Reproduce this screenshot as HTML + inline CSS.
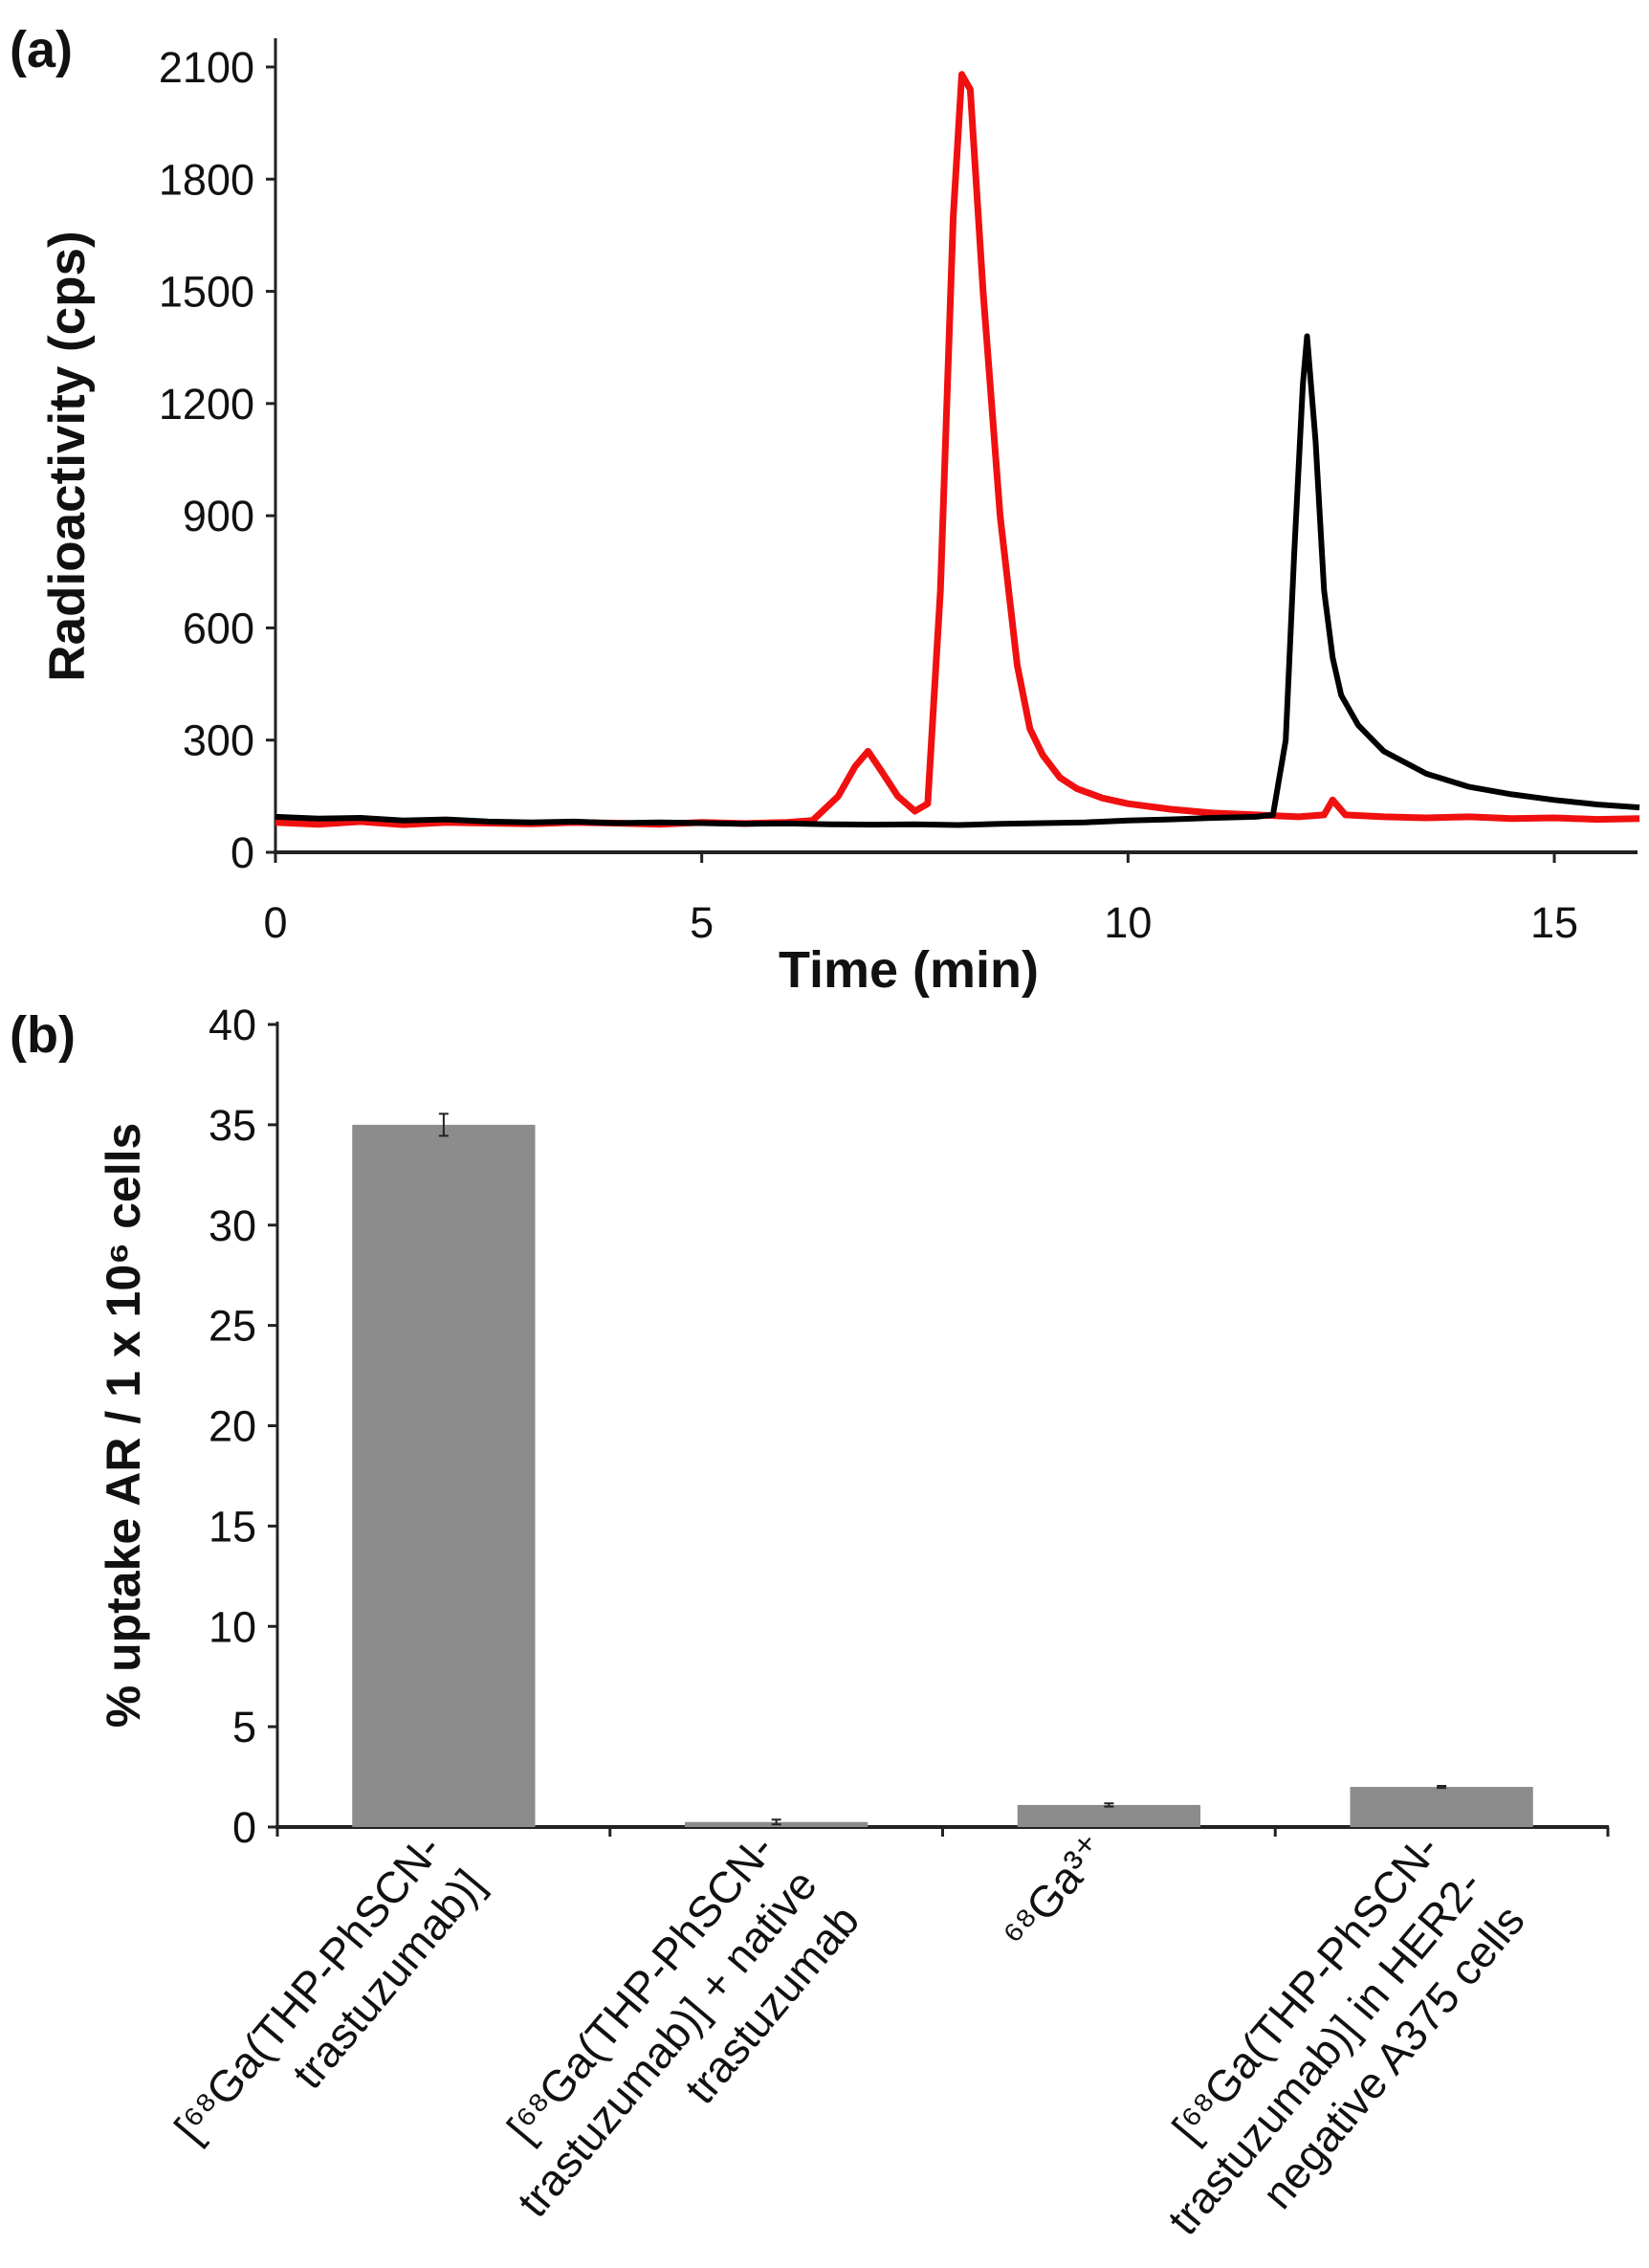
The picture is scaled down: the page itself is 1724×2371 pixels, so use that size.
<!DOCTYPE html>
<html><head><meta charset="utf-8"><style>
body{margin:0;background:#fff}
svg{display:block}
text{font-family:"Liberation Sans",sans-serif;fill:#111}
</style></head><body>
<svg width="1724" height="2371" viewBox="0 0 1724 2371" xmlns="http://www.w3.org/2000/svg">
<g id="a"></g>
<g id="b"></g>
</svg>
<script>
// Panel (a) data
const redTimes=[0,0.5,1,1.5,2,2.5,3,3.5,4,4.5,5,5.5,6,6.3,6.6,6.8,6.95,7.1,7.3,7.5,7.65,7.8,7.95,8.05,8.15,8.3,8.5,8.7,8.85,9.0,9.2,9.4,9.7,10,10.5,11,11.5,12,12.3,12.4,12.55,13,13.5,14,14.5,15,15.5,16];
const redVals=[80,75,82,74,80,78,76,80,78,75,80,77,80,85,150,230,270,220,150,110,130,700,1700,2080,2040,1500,900,500,330,260,200,170,145,130,115,105,100,95,100,140,100,95,92,95,90,92,88,90];
const blackTimes=[0,0.5,1,1.5,2,2.5,3,3.5,4,4.5,5,5.5,6,6.5,7,7.5,8,8.5,9,9.5,10,10.5,11,11.5,11.7,11.85,11.95,12.05,12.1,12.2,12.3,12.4,12.5,12.7,13,13.5,14,14.5,15,15.5,16];
const blackVals=[95,90,92,85,88,82,80,82,78,80,78,76,77,75,74,75,73,76,78,80,85,88,92,95,100,300,800,1250,1380,1100,700,520,420,340,270,210,175,155,140,128,120];
const aYTicks=[0,300,600,900,1200,1500,1800,2100];
const aXTicks=[0,5,10,15];
// Panel (b) data
const bCats=[["[⁶⁸Ga(THP-PhSCN-","trastuzumab)]"],["[⁶⁸Ga(THP-PhSCN-","trastuzumab)] + native","trastuzumab"],["⁶⁸Ga³⁺"],["[⁶⁸Ga(THP-PhSCN-","trastuzumab)] in HER2-","negative A375 cells"]];
const bVals=[35,0.25,1.1,2.0];
const bErrs=[0.55,0.12,0.08,0.05];
const bYTicks=[0,5,10,15,20,25,30,35,40];

const NS="http://www.w3.org/2000/svg";
function mk(p,t,at,txt){const e=document.createElementNS(NS,t);for(const k in at)e.setAttribute(k,at[k]);if(txt!==undefined)e.textContent=txt;p.appendChild(e);return e;}

// Panel a
const A=document.getElementById('a');
const ax=v=>288+v*(1625-288)/15, ay=v=>891-v*(891-70)/2100;
let e=mk(A,'line',{x1:288,y1:40,x2:288,y2:893,stroke:'#222','stroke-width':3});

e=mk(A,'line',{x1:286,y1:891,x2:1712,y2:891,stroke:'#222','stroke-width':4});

aYTicks.forEach(v=>{mk(A,'line',{x1:278,y1:ay(v),x2:288,y2:ay(v),stroke:'#222','stroke-width':3});
 e=mk(A,'text',{x:266,y:ay(v)+16,'text-anchor':'end','font-size':45},v);
 });
aXTicks.forEach(v=>{mk(A,'line',{x1:ax(v),y1:891,x2:ax(v),y2:902,stroke:'#222','stroke-width':3});
 e=mk(A,'text',{x:ax(v),y:980,'text-anchor':'middle','font-size':45},v);
 });
e=mk(A,'text',{x:950,y:1032,'text-anchor':'middle','font-size':54,'font-weight':'bold'},'Time (min)');

e=mk(A,'text',{x:0,y:0,'text-anchor':'middle','font-size':53,'font-weight':'bold',transform:'translate(88,477) rotate(-90)'},'Radioactivity (cps)');

e=mk(A,'text',{x:10,y:70,'font-size':54,'font-weight':'bold'},'(a)');

function pts(ts,vs){return ts.map((t,i)=>ax(t).toFixed(1)+','+ay(vs[i]).toFixed(1)).join(' ');}
e=mk(A,'polyline',{points:pts(redTimes,redVals),fill:'none',stroke:'#f01010','stroke-width':7,'stroke-linejoin':'round'});

e=mk(A,'polyline',{points:pts(blackTimes,blackVals),fill:'none',stroke:'#000','stroke-width':6,'stroke-linejoin':'round'});


// Panel b
const B=document.getElementById('b');
const by=v=>1910-v*(1910-1071)/40;
const bx0=290,bw=(1681-290)/bCats.length;
e=mk(B,'line',{x1:290,y1:1068,x2:290,y2:1912,stroke:'#222','stroke-width':3});

e=mk(B,'line',{x1:288,y1:1910,x2:1682,y2:1910,stroke:'#222','stroke-width':4});

bYTicks.forEach(v=>{mk(B,'line',{x1:280,y1:by(v),x2:290,y2:by(v),stroke:'#222','stroke-width':3});
 e=mk(B,'text',{x:268,y:by(v)+16,'text-anchor':'end','font-size':45},v);
 });
for(let i=0;i<=bCats.length;i++){mk(B,'line',{x1:bx0+i*bw,y1:1910,x2:bx0+i*bw,y2:1920,stroke:'#222','stroke-width':3});}
bVals.forEach((v,i)=>{const cx=bx0+(i+0.5)*bw,w=bw*0.55;
 e=mk(B,'rect',{x:cx-w/2,y:by(v),width:w,height:1910-by(v),fill:'#8c8c8c'});
 
 const er=bErrs[i];
 e=mk(B,'path',{d:`M${cx},${by(v+er)}V${by(v-er)}M${cx-5},${by(v+er)}h10M${cx-5},${by(v-er)}h10`,stroke:'#222','stroke-width':2,fill:'none'});
 
 const g=mk(B,'g',{transform:`translate(${cx},1934) rotate(-50)`});
 
 bCats[i].forEach((ln,j)=>{mk(g,'text',{x:0,y:j*58,'text-anchor':'end','font-size':46},ln);});
});
e=mk(B,'text',{x:0,y:0,'text-anchor':'middle','font-size':50,'font-weight':'bold',transform:'translate(146,1490) rotate(-90)'},'% uptake AR / 1 x 10⁶ cells');

e=mk(B,'text',{x:10,y:1100,'font-size':54,'font-weight':'bold'},'(b)');

</script>
</body></html>
